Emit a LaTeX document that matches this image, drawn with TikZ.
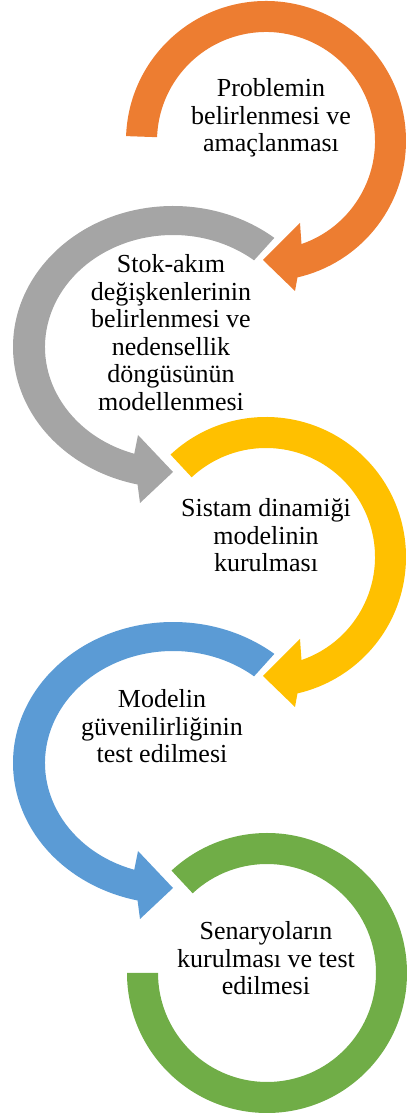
\documentclass[tikz,border=0pt]{standalone}
\usepackage{fontspec}
\setmainfont{Liberation Serif}
\definecolor{ringorange}{HTML}{ED7D31}
\definecolor{ringgray}{HTML}{A5A5A5}
\definecolor{ringyellow}{HTML}{FFC000}
\definecolor{ringblue}{HTML}{5B9BD5}
\definecolor{ringgreen}{HTML}{70AD47}
\tikzset{
  % anchored on the baseline of the last line
  steplabel/.style={align=center, anchor=base, inner sep=0pt,
    font=\fontsize{26}{27.5}\selectfont, text=black},
  % arrow bending clockwise, head at the bottom pointing left
  pics/rightarrow/.style={code={
    \fill[#1] (\startang:140) arc[start angle=\startang, end angle=-77, radius=140]
      -- (29,-150) -- (-3,-119) -- (34,-82)
      -- (-71:109) arc[start angle=-71, end angle=\startang, radius=109] -- cycle;
  }},
  % arrow bending anticlockwise, head at the bottom pointing right
  pics/leftarrow/.style={code={
    \fill[#1] (50.7:160 and 141) arc[start angle=50.7, end angle=257.2, x radius=160, y radius=141]
      -- (-33,-156) -- (0,-125) -- (-35,-88)
      -- (252.4:128 and 112) arc[start angle=252.4, end angle=50.7, x radius=128, y radius=112] -- cycle;
  }},
}
\begin{document}
\begin{tikzpicture}[x=1pt, y=1pt]
\useasboundingbox (0,0) rectangle (407,1114);

% step 1
\def\startang{178}
\pic at (266,973) {rightarrow=ringorange};
% step 2
\pic at (173,767) {leftarrow=ringgray};
% step 3
\def\startang{133}
\pic at (266,557) {rightarrow=ringyellow};
% step 4
\pic at (173,351) {leftarrow=ringblue};
% step 5: open ring without a head
\begin{scope}[shift={(267,141)}]
  \fill[ringgreen] (180:140) arc[start angle=180, end angle=493, radius=140]
    -- (133:109) arc[start angle=493, end angle=180, radius=109] -- cycle;
\end{scope}

\node[steplabel] (s1) at (271,962) {Problemin\\belirlenmesi ve\\amaçlanması};
\node[steplabel] (s2) at (171,703.5) {Stok-akım\\değişkenlerinin\\belirlenmesi ve\\nedensellik\\döngüsünün\\modellenmesi};
\node[steplabel] (s3) at (266,542) {Sistam dinamiği\\modelinin\\kurulması};
\node[steplabel] (s4) at (162,351) {Modelin\\güvenilirliğinin\\test edilmesi};
\node[steplabel] (s5) at (266,119) {Senaryoların\\kurulması ve test\\edilmesi};
\end{tikzpicture}
\end{document}
